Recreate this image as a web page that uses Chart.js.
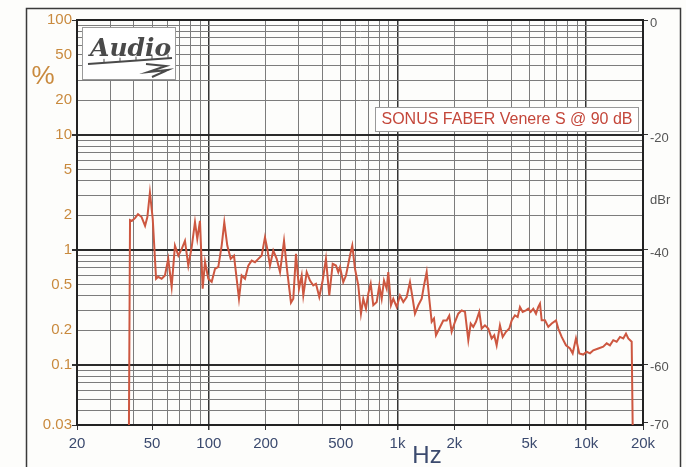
<!DOCTYPE html>
<html><head><meta charset="utf-8">
<script src="https://cdn.jsdelivr.net/npm/chart.js@4/dist/chart.umd.min.js"></script>
<style>html,body{margin:0;padding:0;background:#fff}#wrap{width:686px;height:467px;position:relative}canvas{display:block}</style>
</head><body><div id="wrap"><canvas id="c" width="686" height="467"></canvas></div>
<script>
const freqHz = [37.7,38.2,39.1,40.6,42.1,44.0,45.9,47.2,48.7,50.4,
52.5,53.9,56.2,58.5,60.9,63.5,66.1,68.9,71.8,74.7,
77.8,81.1,84.4,86.8,89.7,92.7,95.4,99.3,103.5,107.8,
112.2,116.9,120.7,125.2,130.5,135.9,140.4,144.4,149.2,155.4,
161.8,168.6,175.6,182.8,190.5,198.3,204,210.8,219.5,228.8,
238.3,250.2,260.4,272.4,280.2,289.6,300.4,310.4,316.6,330,
343.6,357.6,369.6,384.8,401,417.4,434.8,453.2,471.8,485.2,
495.4,515.6,533,559.8,575.6,595,619.4,640,658.2,680.2,
699.8,720.6,743.8,775.4,800.4,824,847.6,875.8,893.2,923,
949.4,989.6,1030,1073,1118,1164,1203,1237,1288,1343,
1381,1427,1473,1517,1560,1599,1665,1748,1822,1880,
1936,2016,2098,2188,2278,2372,2442,2520,2604,2712,
2792,2906,3026,3154,3256,3352,3490,3608,3756,3912,
4028,4192,4332,4456,4606,4794,4932,5078,5242,5418,
5572,5688,5808,6046,6296,6562,6916,7112,7414,7812,
8204,8478,8826,9190,9650,10060,10470,10900,11590,12310,
12840,13360,13910,14500,15100,15720,16250,16710,17420,17630];

const thdPct = [0.03,1.82,1.79,1.89,2.05,1.93,1.62,1.93,3.16,1.86,
0.561,0.584,0.561,0.599,0.836,0.478,1.09,0.893,1.02,1.20,
0.731,1.06,1.75,1.245,1.79,0.46,0.787,0.561,0.528,0.685,
0.712,1.09,1.74,1.09,0.836,0.893,0.561,0.376,0.599,0.561,
0.731,0.808,0.782,0.836,0.893,1.288,1.02,0.731,0.986,0.836,
0.641,1.20,0.645,0.348,0.376,0.923,0.46,0.599,0.402,0.641,
0.542,0.491,0.508,0.389,0.542,0.836,0.402,0.756,0.731,0.641,
0.708,0.525,0.599,0.893,1.09,0.685,0.491,0.279,0.376,0.308,
0.416,0.508,0.33,0.352,0.491,0.376,0.542,0.46,0.641,0.33,
0.376,0.319,0.402,0.352,0.389,0.525,0.376,0.279,0.33,0.376,
0.491,0.641,0.376,0.237,0.253,0.181,0.207,0.243,0.243,0.268,
0.194,0.237,0.279,0.298,0.289,0.164,0.229,0.214,0.237,0.289,
0.207,0.221,0.207,0.17,0.181,0.148,0.221,0.175,0.194,0.207,
0.244,0.27,0.261,0.319,0.289,0.298,0.308,0.289,0.308,0.279,
0.319,0.341,0.244,0.244,0.214,0.229,0.244,0.207,0.175,0.148,
0.139,0.126,0.17,0.126,0.123,0.13,0.126,0.134,0.139,0.144,
0.154,0.148,0.164,0.159,0.175,0.17,0.187,0.17,0.159,0.03];

const xGridValues = [20,30,40,50,60,70,80,90,100,200,300,400,500,600,700,800,900,
  1000,2000,3000,4000,5000,6000,7000,8000,9000,10000,20000];
const xLabelValues = [20,50,100,200,500,1000,2000,5000,10000,20000];
const xLabelTexts  = ['20','50','100','200','500','1k','2k','5k','10k','20k'];
const xMajorValues = [100,1000,10000];

const yGridValues = [0.03,0.04,0.05,0.06,0.07,0.08,0.09,0.1,0.2,0.3,0.4,0.5,0.6,0.7,0.8,0.9,
  1,2,3,4,5,6,7,8,9,10,20,30,40,50,60,70,80,90,100];
const yLabelValues = [100,50,20,10,5,2,1,0.5,0.2,0.1,0.03];
const yLabelTexts  = ['100','50','20','10','5','2','1','0.5','0.2','0.1','0.03'];
const yTickMarkValues = [100,10,1,0.1,0.03];
const yMajorValues = [0.1,1,10];

const dbTickValues = [100,10,1,0.1,0.0316];
const dbTickLabels = ['0','-20','-40','-60','-70'];

const seriesLabel = 'SONUS FABER Venere S @ 90 dB';
const leftUnit = '%';
const rightUnit = 'dBr';
const xUnit = 'Hz';
const logoText = 'Audio';

function findIdx(list, v){ for(let i=0;i<list.length;i++){ if(Math.abs(list[i]-v)/list[i] < 1e-6) return i; } return -1; }

const points = freqHz.map((f,i)=>({x:f, y:thdPct[i]}));

const FONT = '"Liberation Sans", Arial, sans-serif';

const decor = {
  id:'decor',
  beforeDraw(chart){
    const c = chart.ctx;
    c.save();
    c.fillStyle = '#fdfdfb';
    c.fillRect(0,0,chart.width,chart.height);
    c.restore();
  },
  afterDraw(chart){
    const c = chart.ctx, a = chart.chartArea;
    c.save();
    c.strokeStyle = '#3a3a3a'; c.lineWidth = 1.5;
    c.strokeRect(26.5, 8.5, 654, 470);
    c.strokeStyle = '#222'; c.lineWidth = 2;
    c.beginPath(); c.moveTo(a.left, a.top); c.lineTo(a.right, a.top); c.lineTo(a.right, a.bottom); c.stroke();
    c.fillStyle = '#c98a3e'; c.font = '26px ' + FONT; c.textAlign='center'; c.textBaseline='middle';
    c.fillText(leftUnit, 43, 77);
    c.fillStyle = '#3b4a6e'; c.font = '24px ' + FONT;
    c.fillText(xUnit, 427, 456);
    c.fillStyle = '#555'; c.font = '13px ' + FONT; c.textAlign='left';
    c.fillText(rightUnit, 650, 200);
    // logo box
    c.fillStyle = '#fff'; c.fillRect(82, 27, 94, 53);
    c.strokeStyle = '#9a9a9a'; c.lineWidth = 1; c.strokeRect(82.5, 27.5, 93, 52);
    c.fillStyle = '#4a4a4a'; c.font = 'italic bold 25px "DejaVu Serif", serif'; c.textAlign='left'; c.textBaseline='alphabetic';
    c.fillText(logoText, 90, 56);
    c.strokeStyle = '#4a4a4a'; c.lineWidth = 2;
    c.beginPath(); c.moveTo(88, 64); c.lineTo(172, 58); c.stroke();
    c.lineWidth = 1;
    c.beginPath();
    for (const tx of [104,120,136,152,168]) { const ty = 64 - (tx-88)*6/84; c.moveTo(tx, ty); c.lineTo(tx, ty-4); }
    c.stroke();
    c.lineWidth = 2;
    c.beginPath(); c.moveTo(146, 64); c.lineTo(166, 66); c.lineTo(148, 72); c.lineTo(168, 70); c.lineTo(152, 77); c.stroke();
    // series legend box
    c.font = '16px ' + FONT;
    c.fillStyle = '#fff'; c.fillRect(375, 107, 263, 24);
    c.strokeStyle = '#999'; c.lineWidth = 1; c.strokeRect(375.5, 107.5, 263, 24);
    c.fillStyle = '#c4473b'; c.textAlign = 'center'; c.textBaseline = 'middle';
    c.fillText(seriesLabel, 507, 120);
    c.restore();
  }
};

new Chart(document.getElementById('c'), {
  type: 'line',
  data: { datasets: [{
    label: seriesLabel, data: points, borderColor: '#cd5740', borderWidth: 2,
    pointRadius: 0, tension: 0, fill: false, yAxisID: 'y', xAxisID: 'x'
  }]},
  options: {
    responsive: false, animation: false, devicePixelRatio: 1,
    layout: { padding: { top: 20, left: 0, right: 0, bottom: 0 } },
    plugins: { legend: { display: false }, tooltip: { enabled: false } },
    scales: {
      x: {
        type: 'logarithmic', min: 20, max: 20000, position: 'bottom',
        afterBuildTicks: s => { s.ticks = xGridValues.map(v => ({ value: v })); },
        afterFit: s => { s.height = 42; },
        ticks: { autoSkip: false, maxRotation: 0, minRotation: 0, padding: 5, color: '#3b4a6e',
          font: { family: FONT, size: 15 },
          callback: v => { const i = findIdx(xLabelValues, v); return i >= 0 ? xLabelTexts[i] : ''; } },
        grid: {
          color: ctx => (ctx.tick && findIdx(xMajorValues, ctx.tick.value) >= 0) ? '#333' : '#7c7c7c',
          lineWidth: ctx => (ctx.tick && findIdx(xMajorValues, ctx.tick.value) >= 0) ? 1.5 : 1,
          tickLength: 5,
          tickColor: ctx => (ctx.tick && findIdx(xLabelValues, ctx.tick.value) >= 0) ? '#333' : 'rgba(0,0,0,0)'
        },
        border: { color: '#222', width: 2 }
      },
      y: {
        type: 'logarithmic', min: 0.03, max: 100, position: 'left',
        afterBuildTicks: s => { s.ticks = yGridValues.map(v => ({ value: v })); },
        afterFit: s => { s.width = 77; },
        ticks: { autoSkip: false, padding: 0, color: '#c98a3e', font: { family: FONT, size: 15 },
          callback: v => { const i = findIdx(yLabelValues, v); return i >= 0 ? yLabelTexts[i] : ''; } },
        grid: {
          color: ctx => (ctx.tick && findIdx(yMajorValues, ctx.tick.value) >= 0) ? '#2a2a2a' : '#7c7c7c',
          lineWidth: ctx => (ctx.tick && findIdx(yMajorValues, ctx.tick.value) >= 0) ? 2 : 1,
          tickLength: 5,
          tickColor: ctx => (ctx.tick && findIdx(yTickMarkValues, ctx.tick.value) >= 0) ? '#333' : 'rgba(0,0,0,0)'
        },
        border: { color: '#222', width: 2 }
      },
      y2: {
        type: 'logarithmic', min: 0.03, max: 100, position: 'right',
        afterBuildTicks: s => { s.ticks = dbTickValues.map(v => ({ value: v })); },
        afterFit: s => { s.width = 43; },
        ticks: { autoSkip: false, padding: 2, labelOffset: 3, color: '#555', font: { family: FONT, size: 13 },
          callback: (v, i) => dbTickLabels[i] },
        grid: { drawOnChartArea: false, tickLength: 5, tickColor: '#333' },
        border: { color: '#222', width: 2 }
      }
    }
  },
  plugins: [decor]
});
</script>
</body></html>
